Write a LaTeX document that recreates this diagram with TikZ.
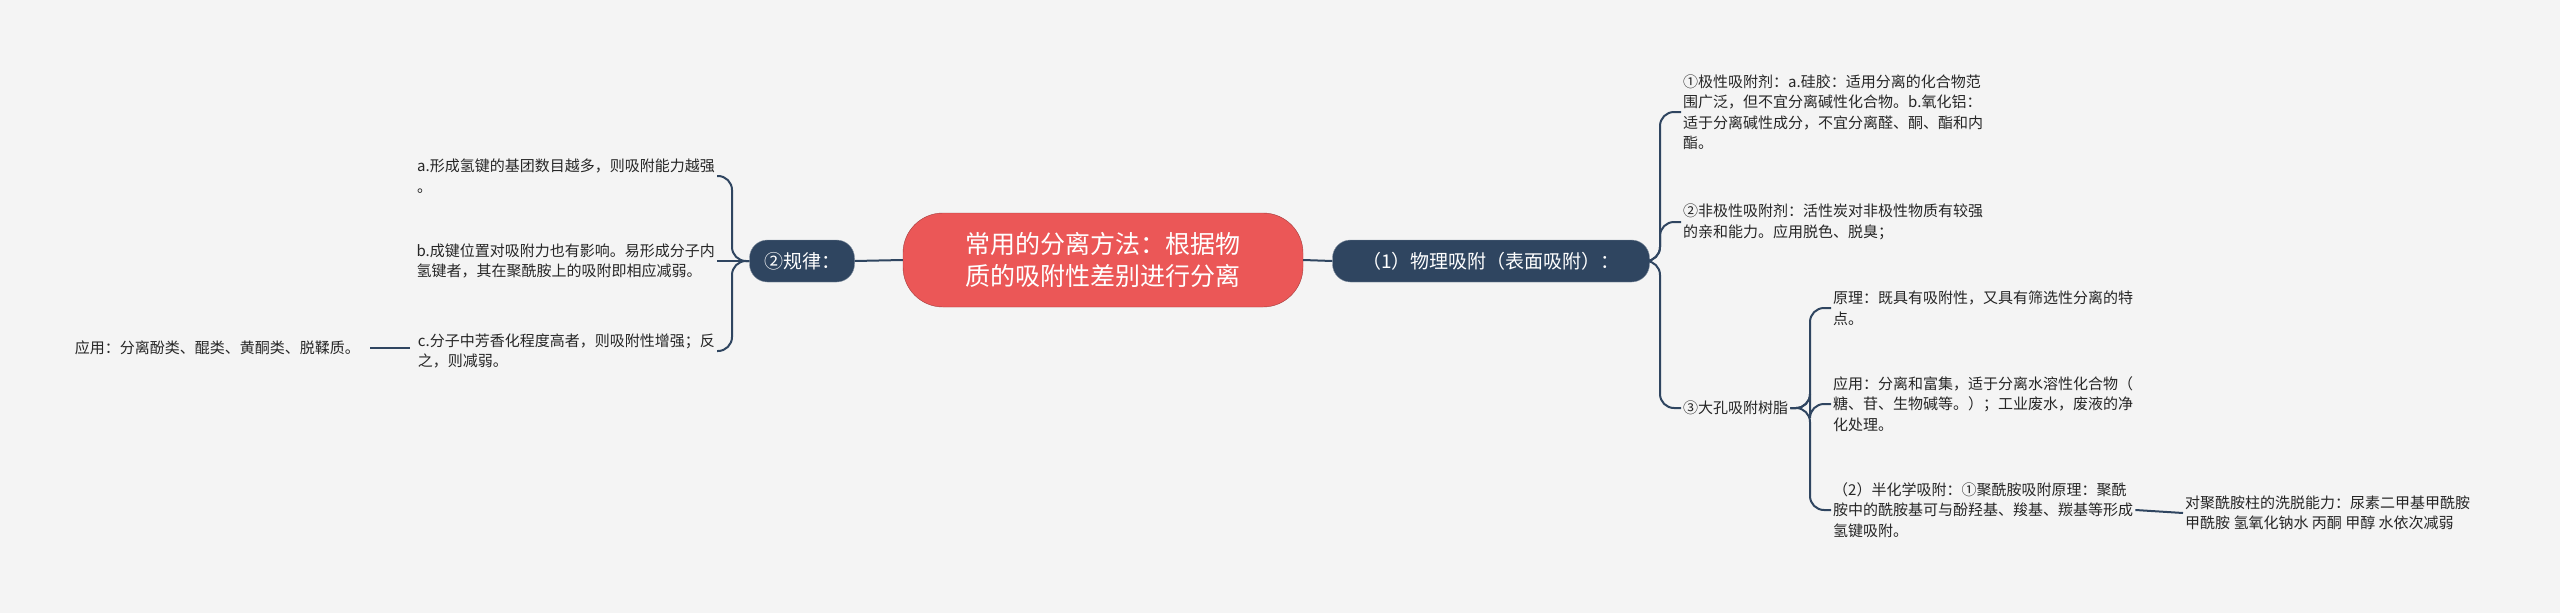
\documentclass[tikz,border=0pt]{standalone}
\usepackage{fontspec}
\setmainfont{Noto Sans CJK SC}
\definecolor{bg}{HTML}{F4F4F4}
\definecolor{dark}{HTML}{2F4560}
\definecolor{cred}{HTML}{EB5757}
\begin{document}
\begin{tikzpicture}[x=1pt,y=1pt,
  txt/.style={inner sep=2pt,align=left,font=\fontsize{15}{20.5}\selectfont,text=black!85},
  darkbox/.style={fill=dark,draw=dark!60,rounded corners=18pt,text=white,font=\fontsize{19}{22}\selectfont,inner xsep=14pt,minimum height=42pt},
  link/.style={draw=dark,line width=2pt,rounded corners=14pt}]
\fill[bg] (0,0) rectangle (2560,-613);
\useasboundingbox (0,0) rectangle (2560,-613);
\node[fill=cred,draw=cred!70!black,rounded corners=40pt,minimum width=400pt,minimum height=94pt,text=white,align=center,font=\fontsize{25}{32}\selectfont] (c) at (1103,-260) {常用的分离方法：根据物\\质的吸附性差别进行分离};
\node[darkbox,minimum width=317pt] (r) at (1491,-261) {（1）物理吸附（表面吸附）：};
\node[darkbox,minimum width=105pt] (l) at (802,-261) {②规律：};
\draw[link] (c.east) -- (r.west);
\draw[link] (c.west) -- (l.east);
% right children
\node[txt,anchor=west] (n1) at (1681,-112) {①极性吸附剂：a.硅胶：适用分离的化合物范\\围广泛，但不宜分离碱性化合物。b.氧化铝：\\适于分离碱性成分，不宜分离醛、酮、酯和内\\酯。};
\node[txt,anchor=west] (n2) at (1681,-222) {②非极性吸附剂：活性炭对非极性物质有较强\\的亲和能力。应用脱色、脱臭；};
\node[txt,anchor=west] (n3) at (1681,-408) {③大孔吸附树脂};
\foreach \n in {n1,n2,n3} \draw[link] (r.east) -- (1660,-261) |- (\n.west);
\node[txt,anchor=west] (m1) at (1831,-308) {原理：既具有吸附性，又具有筛选性分离的特\\点。};
\node[txt,anchor=west] (m2) at (1831,-404) {应用：分离和富集，适于分离水溶性化合物（\\糖、苷、生物碱等。）；工业废水，废液的净\\化处理。};
\node[txt,anchor=west] (m3) at (1831,-510) {（2）半化学吸附：①聚酰胺吸附原理：聚酰\\胺中的酰胺基可与酚羟基、羧基、羰基等形成\\氢键吸附。};
\foreach \n in {m1,m2,m3} \draw[link] (n3.east) -- (1810,-408) |- (\n.west);
\node[txt,anchor=west] (m4) at (2183,-513) {对聚酰胺柱的洗脱能力：尿素二甲基甲酰胺\\甲酰胺 氢氧化钠水 丙酮 甲醇 水依次减弱};
\draw[link] (m3.east) -- (m4.west);
% left children
\node[txt,anchor=east] (a) at (717,-176) {a.形成氢键的基团数目越多，则吸附能力越强\\。};
\node[txt,anchor=east] (b) at (717,-261) {b.成键位置对吸附力也有影响。易形成分子内\\氢键者，其在聚酰胺上的吸附即相应减弱。};
\node[txt,anchor=east] (cc) at (717,-351) {c.分子中芳香化程度高者，则吸附性增强；反\\之，则减弱。};
\draw[link] (l.west) -- (732,-261) |- (a.east);
\draw[link] (l.west) -- (732,-261) |- (cc.east);
\draw[link] (l.west) -- (b.east);
\node[txt,anchor=east] (ap) at (362,-348) {应用：分离酚类、醌类、黄酮类、脱鞣质。};
\draw[link] (cc.west) ++(-6,3) coordinate (cw) -- ([xshift=8pt]ap.east |- cw);
\end{tikzpicture}
\end{document}
